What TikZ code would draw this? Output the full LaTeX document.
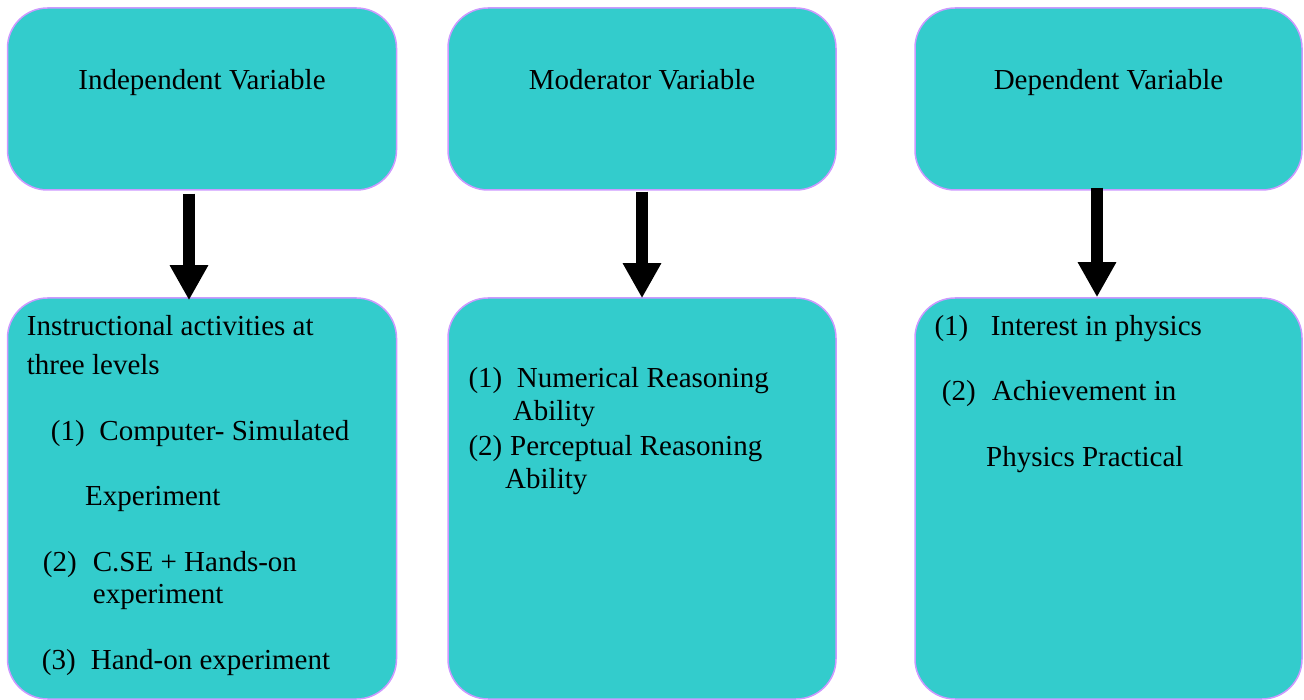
\documentclass[tikz,border=0pt]{standalone}
\usepackage{fontspec}
\setmainfont{Liberation Serif}
\newfontfamily\diagramfont{Liberation Serif}
\usetikzlibrary{calc}
\usetikzlibrary{arrows.meta}
\definecolor{boxfill}{HTML}{33CCCC}
\definecolor{boxborder}{HTML}{CC99FF}
\newcommand{\numlabel}[2]{\makebox[#1][l]{#2}}

\begin{document}
\begin{tikzpicture}[x=1pt, y=-1pt,
    every node/.style={font=\diagramfont\fontsize{29}{35}\selectfont},
    varbox/.style={draw=boxborder, fill=boxfill, line width=1.5pt, rounded corners=40pt, inner sep=0pt},
    linetext/.style={anchor=base west, inner sep=0pt},
    bigarrow/.style={-{Triangle[width=36pt,length=35pt]}, line width=12pt}]
    \useasboundingbox (0,0) rectangle (1304,700);

    % top row
    \node[varbox, minimum width=389pt, minimum height=182pt] (independent) at (202,99) {};
    \node[varbox, minimum width=388pt, minimum height=182pt] (moderator) at (642,99) {};
    \node[varbox, minimum width=387pt, minimum height=182pt] (dependent) at (1108.5,99) {};
    \node[anchor=base, inner sep=0pt] (independent title) at (202,90) {Independent Variable};
    \node[anchor=base, inner sep=0pt] (moderator title) at (642,90) {Moderator Variable};
    \node[anchor=base, inner sep=0pt] (dependent title) at (1108.5,90) {Dependent Variable};

    % bottom row
    \node[varbox, minimum width=389pt, minimum height=401pt] (activities) at (202,498.5) {};
    \node[varbox, minimum width=388pt, minimum height=401pt] (abilities) at (642,498.5) {};
    \node[varbox, minimum width=387pt, minimum height=401pt] (outcomes) at (1108.5,498.5) {};

    \node[linetext] (activities 1) at (26.7,336) {Instructional activities at};
    \node[linetext] (activities 2) at (26.7,375) {three levels};
    \node[linetext] (activities 3) at (50.7,440) {\numlabel{48.6pt}{(1)}Computer- Simulated};
    \node[linetext] (activities 4) at (85,505.7) {Experiment};
    \node[linetext] (activities 5) at (42.7,571) {\numlabel{50pt}{(2)}C.SE + Hands-on};
    \node[linetext] (activities 6) at (92.7,603) {experiment};
    \node[linetext] (activities 7) at (41.7,669) {\numlabel{49pt}{(3)}Hand-on experiment};

    \node[linetext] (abilities 1) at (468.3,388) {\numlabel{48.4pt}{(1)}Numerical Reasoning};
    \node[linetext] (abilities 2) at (512.7,420.7) {Ability};
    \node[linetext] (abilities 3) at (468.3,455) {\numlabel{41.7pt}{(2)}Perceptual Reasoning};
    \node[linetext] (abilities 4) at (505,488.3) {Ability};

    \node[linetext] (outcomes 1) at (934.3,335.7) {\numlabel{56.4pt}{(1)}Interest in physics};
    \node[linetext] (outcomes 2) at (941.7,401) {\numlabel{50pt}{(2)}Achievement in};
    \node[linetext] (outcomes 3) at (986,466) {Physics Practical};

    % arrows
    \draw[bigarrow] ($(independent.south)+(-13,3)$) -- ($(activities.north)+(-13,3)$);
    \draw[bigarrow] ($(moderator.south)+(0,1)$) -- ($(abilities.north)+(0,1)$);
    \draw[bigarrow] ($(dependent.south)+(-11.5,-3)$) -- ($(outcomes.north)+(-11.5,0)$);
\end{tikzpicture}
\end{document}
